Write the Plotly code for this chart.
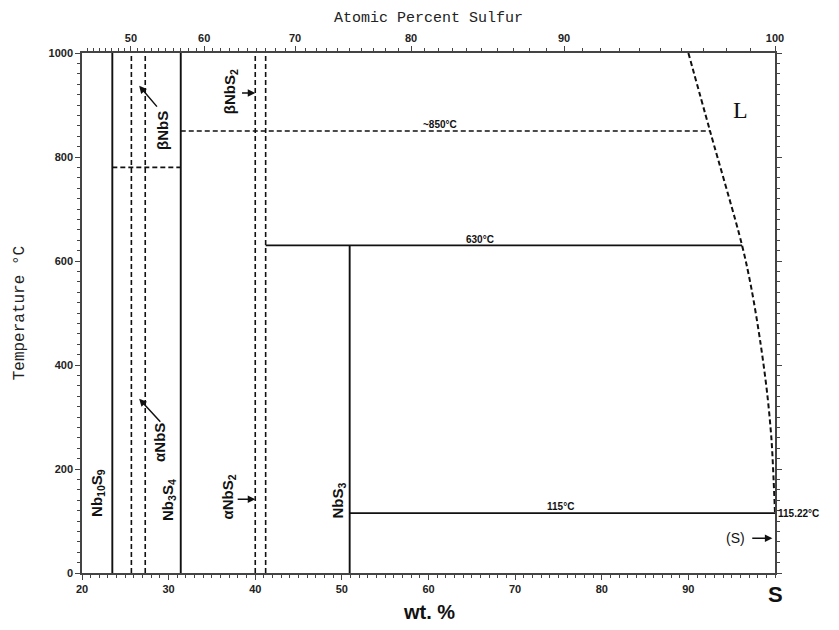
import plotly.graph_objects as go
import numpy as np

# ---------------- data ----------------
M_S = 32.06
M_NB = 92.906

# phase boundary compositions (wt.% S)
phase_names = ["Nb10S9", "aNbS_lo", "aNbS_hi", "Nb3S4", "NbS2_lo", "NbS2_hi", "NbS3"]
phase_wt = [23.5, 25.7, 27.3, 31.4, 40.0, 41.2, 50.9]
phase_top = [1000, 1000, 1000, 1000, 1000, 1000, 630]
phase_dash = [False, True, True, False, True, True, False]

# isotherms: (temperature, x start, x end, dashed)
iso_T = [780, 850, 630, 115.22]
iso_x0 = [23.5, 31.4, 41.2, 50.9]
iso_x1 = [31.4, 92.5, 96.2, 100.0]
iso_dash = [True, True, False, False]

# liquidus (wt.% S, T)
liq_wt = [90.0, 92.5, 96.2, 97.3, 98.3, 99.1, 99.6, 99.85, 100.0]
liq_T = [1000, 850, 630, 545, 445, 345, 255, 175, 115.22]

# axis ticks
wt_ticks = [20, 30, 40, 50, 60, 70, 80, 90]
at_ticks = [50, 60, 70, 80, 90, 100]
at_minor = list(range(43, 100))
T_ticks = [0, 200, 400, 600, 800, 1000]


def at_to_wt(a):
    a = np.asarray(a, dtype=float)
    return 100 * a * M_S / (a * M_S + (100 - a) * M_NB)


LINE = "#111111"
DASH = "5px,3px"

fig = go.Figure()

for x, top, d in zip(phase_wt, phase_top, phase_dash):
    fig.add_trace(go.Scatter(x=[x, x], y=[0, top], mode="lines",
                             line=dict(color=LINE, width=1.6 if d else 1.9,
                                       dash=DASH if d else "solid"),
                             showlegend=False, hoverinfo="skip"))

for T, x0, x1, d in zip(iso_T, iso_x0, iso_x1, iso_dash):
    fig.add_trace(go.Scatter(x=[x0, x1], y=[T, T], mode="lines",
                             line=dict(color=LINE, width=1.6 if d else 1.9,
                                       dash=DASH if d else "solid"),
                             showlegend=False, hoverinfo="skip"))

fig.add_trace(go.Scatter(x=liq_wt, y=liq_T, mode="lines",
                         line=dict(color=LINE, width=2, dash=DASH, shape="spline",
                                   smoothing=0.9),
                         showlegend=False, hoverinfo="skip"))

# invisible trace for the top axis
fig.add_trace(go.Scatter(x=[20, 100], y=[0, 0], xaxis="x2", mode="lines",
                         line=dict(width=0), showlegend=False, hoverinfo="skip"))

lab_font = dict(family="Liberation Sans", size=15, color="#111", weight="bold")
small_font = dict(family="Liberation Sans", size=10, color="#111", weight="bold")

ann = []
def rot(text, x, y):
    ann.append(dict(x=x, y=y, text=text, showarrow=False, textangle=-90,
                    font=lab_font, xref="x", yref="y",
                    xanchor="center", yanchor="middle"))

rot("Nb<sub>10</sub>S<sub>9</sub>", 21.85, 154)
rot("Nb<sub>3</sub>S<sub>4</sub>", 29.9, 140)
rot("αNbS", 29.0, 252)
rot("αNbS<sub>2</sub>", 36.9, 146)
rot("NbS<sub>3</sub>", 49.6, 140)
rot("βNbS", 29.35, 852)
rot("βNbS<sub>2</sub>", 37.1, 925)

def arrow(x, y, ax, ay):
    ann.append(dict(x=x, y=y, ax=ax, ay=ay, xref="x", yref="y", axref="x", ayref="y",
                    text="", showarrow=True, arrowhead=2, arrowsize=1,
                    arrowwidth=1.5, arrowcolor=LINE))

arrow(26.6, 937, 28.8, 894)
arrow(26.6, 335, 29.2, 288)
arrow(40.0, 142, 37.8, 142)
arrow(40.0, 923, 38.3, 923)
arrow(99.7, 67, 97.2, 67)

def txt(text, x, y, font=small_font, xanchor="center", **kw):
    ann.append(dict(x=x, y=y, text=text, showarrow=False, font=font,
                    xanchor=xanchor, yanchor="middle", xref="x", yref="y", **kw))

txt("~850°C", 61.3, 862)
txt("630°C", 66.0, 641)
txt("115°C", 75.2, 127)
txt("115.22°C", 100, 115, xanchor="left", xshift=1)
txt("(S)", 95.4, 67, font=dict(family="Liberation Sans", size=14, color="#111"))
txt("L", 96.0, 890, font=dict(family="Liberation Serif", size=24, color="#111"))

def pann(text, x, y, font, xref="paper", angle=0):
    ann.append(dict(x=x, y=y, xref=xref, yref="paper", text=text, showarrow=False,
                    xanchor="center", yanchor="middle", textangle=angle, font=font))

pann("<b>S</b>", 100, -0.042, dict(family="Liberation Sans", size=22, color="#111"), xref="x")
pann("<b>wt. %</b>", 0.5, -0.075, dict(family="Liberation Sans", size=20, color="#111"))
pann("Atomic Percent Sulfur", 0.5, 1.066, dict(family="Liberation Mono", size=15, color="#222"))
pann("Temperature °C", -0.089, 0.5, dict(family="Liberation Mono", size=16, color="#222"),
     angle=-90)

tickfont = dict(family="Liberation Sans", size=11, color="#222", weight="bold")

# page has an 8px body margin: figure is sized to fit the 839x630 window
fig.update_layout(
    width=831, height=622,
    margin=dict(l=74, r=64, t=45, b=57),
    plot_bgcolor="white", paper_bgcolor="white",
    annotations=ann,
    xaxis=dict(range=[20, 100], tickvals=wt_ticks, ticks="outside", ticklen=5,
               tickcolor="#444", showline=True, linecolor="#444", linewidth=1.5,
               showgrid=False, zeroline=False, tickfont=tickfont,
               minor=dict(dtick=1, tick0=20, ticks="outside", ticklen=3, tickcolor="#444")),
    xaxis2=dict(range=[20, 100], overlaying="x", side="top",
                tickvals=list(at_to_wt(at_ticks)), ticktext=[str(a) for a in at_ticks],
                ticks="outside", ticklen=5, tickcolor="#444",
                showline=True, linecolor="#444", linewidth=1.5,
                showgrid=False, zeroline=False, tickfont=tickfont,
                minor=dict(tickvals=list(at_to_wt(at_minor)), ticks="outside",
                           ticklen=3, tickcolor="#444")),
    yaxis=dict(range=[0, 1000], tickvals=T_ticks, ticks="outside", ticklen=5,
               tickcolor="#444", showline=True, linecolor="#444", linewidth=1.5,
               mirror="ticks", showgrid=False, zeroline=False, tickfont=tickfont,
               minor=dict(dtick=20, ticks="outside", ticklen=3, tickcolor="#444")),
)

fig.write_html("out.html")
